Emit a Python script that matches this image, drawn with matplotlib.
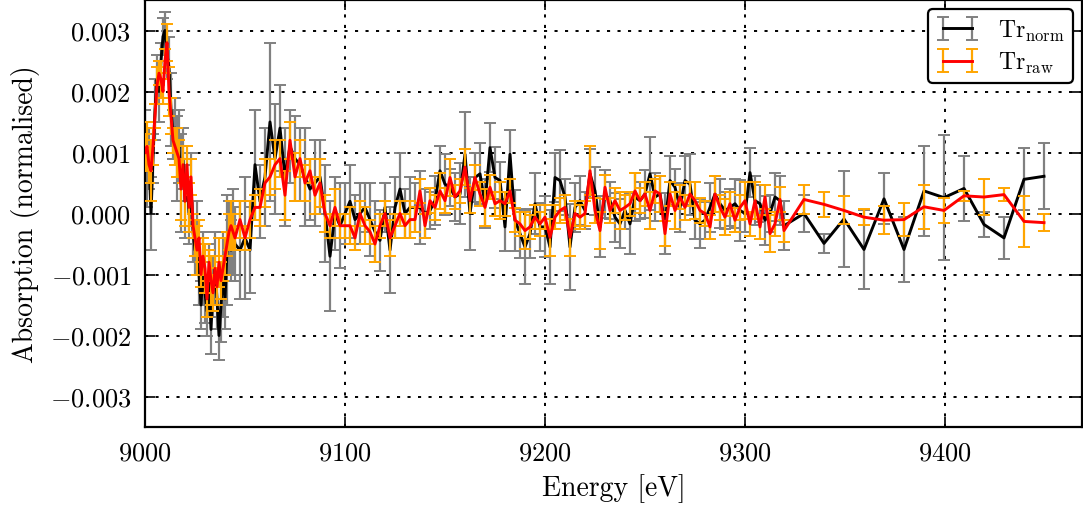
import matplotlib
matplotlib.use("Agg")
import matplotlib.pyplot as plt

plt.rcParams.update({
    "font.family": "cmr10",
    "mathtext.fontset": "cm",
    "axes.formatter.use_mathtext": True,
    "font.size": 19,
})

# ---------------- data ----------------
energy = [
    9000, 9001, 9002, 9003, 9004, 9005, 9006, 9007, 9008, 9009,
    9010, 9011, 9012, 9013, 9014, 9015, 9016, 9017, 9018, 9019,
    9020, 9021, 9022, 9023, 9024, 9025, 9026, 9027, 9028, 9029,
    9030, 9031, 9032, 9033, 9034, 9035, 9036, 9037, 9038, 9039,
    9040, 9041, 9042, 9043, 9044,
    9045, 9047.5, 9050, 9052.5, 9055, 9057.5, 9060, 9062.5, 9065, 9067.5,
    9070, 9072.5, 9075, 9077.5, 9080, 9082.5, 9085, 9087.5, 9090, 9092.5,
    9095, 9097.5, 9100, 9102.5, 9105, 9107.5, 9110, 9112.5, 9115, 9117.5,
    9120, 9122.5, 9125, 9127.5, 9130, 9132.5, 9135, 9137.5, 9140, 9142.5,
    9145, 9147.5, 9150, 9152.5, 9155, 9157.5, 9160, 9162.5, 9165, 9167.5,
    9170, 9172.5, 9175, 9177.5, 9180, 9182.5, 9185, 9187.5, 9190, 9192.5,
    9195, 9197.5, 9200, 9202.5, 9205, 9207.5, 9210, 9212.5, 9215, 9217.5,
    9220, 9222.5, 9225, 9227.5, 9230, 9232.5, 9235, 9237.5, 9240, 9242.5,
    9245, 9247.5, 9250, 9252.5, 9255, 9257.5, 9260, 9262.5, 9265, 9267.5,
    9270, 9272.5, 9275, 9277.5, 9280, 9282.5, 9285, 9287.5, 9290, 9292.5,
    9295, 9297.5, 9300, 9302.5, 9305, 9307.5, 9310, 9312.5, 9315, 9317.5,
    9319.5, 9329.5, 9339.5, 9349.5, 9359.5, 9369.5, 9379.5, 9389.5, 9399.5, 9409.5,
    9419.5, 9429.5, 9439.5, 9449.5,
]

tr_norm = [
    .0012, .0007, .0009, .0000, .0009, .0017, .0022, .0020, .0025, .0029,
    .0030, .0026, .0024, .0017, .0013, .0014, .0009, .0011, .0005, .0009,
    .0002, .0006, .0000, .0004, -.0003, -.0006, -.0004, -.0010, -.0015, -.0009,
    -.0013, -.0016, -.0011, -.0019, -.0012, -.0009, -.0014, -.0020, -.0015, -.0010,
    -.0014, -.0006, -.0004, -.0006, -.0003,
    -.0005, -.0006, -.0004, -.0006, .0008, .0002, .0006, .0015, .0009, .0014,
    .0006, .0011, .0009, .0008, .0006, .0004, .0005, .0006, .0000, -.0007,
    .0000, -.0002, .0000, .0002, -.0001, .0000, .0001, -.0001, -.0003, -.00044,
    .0001, -.0006, .0001, .0004, .0000, .0001, .0001, .0001, .0000, .00005,
    .00021, .0007, .00048, .00043, .00027, .00032, .00097, .0000, .00059, .00065,
    .00016, .00108, .00059, .00054, -.00022, .00097, -.00011, -.00033, -.00055, -.00033,
    .00016, -.00022, -.00022, -.00055, .00059, .00054, .00027, -.00055, .0001, .00021,
    .00005, .00065, .00037, -.00022, .00032, .00021, -.00006, -.00017, .00005, -.00017,
    .00027, .00021, .00032, .00065, .00027, .00032, -.00017, .00054, .00043, .0001,
    .00054, .00048, -.00011, -.00017, -.00011, .0001, .00032, .00016, .00005, .0001,
    .00016, .00005, .0000, .00067, .00021, .00016, -.00011, .0000, .00027, .00021,
    -.0002, .0000, -.00049, -.00009, -.00059, .00024, -.00059, .00037, .00026, .00041,
    -.00018, -.0004, .00056, .00061,
]

tr_norm_err = [
    .0005, .0006, .0005, .0006, .0004, .0005, .0004, .0005, .0003, .0003,
    .0003, .0004, .0005, .0006, .0004, .0005, .0007, .0006, .0008, .0005,
    .0006, .0004, .0005, .0006, .0005, .0004, .0006, .0005, .0004, .0006,
    .0005, .0004, .0006, .0004, .0005, .0006, .0005, .0004, .0006, .0007,
    .0005, .0009, .0006, .0005, .0007,
    .0006, .0008, .0010, .0007, .0009, .0006, .0008, .0013, .0009, .0007,
    .0008, .0006, .0007, .0006, .0008, .0005, .0007, .0006, .0008, .0009,
    .0006, .0007, .0005, .0006, .0004, .0005, .0004, .0006, .0005, .0005,
    .0004, .0007, .0005, .0006, .0004, .0005, .0004, .0006, .0004, .0003,
    .0004, .0004, .0005, .0003, .0004, .0005, .0007, .0006, .0004, .0005,
    .0004, .0004, .0005, .0003, .0004, .0004, .0005, .0004, .0006, .0004,
    .0005, .0004, .0005, .0006, .0004, .0005, .0003, .0007, .0004, .0004,
    .0003, .0004, .0004, .0005, .0004, .0003, .0004, .0004, .0003, .0005,
    .0004, .0003, .0004, .0006, .0004, .0003, .0005, .0004, .0003, .0004,
    .0004, .0005, .0003, .0004, .0003, .0004, .0003, .0004, .0003, .0003,
    .0004, .0005, .0003, .0004, .0004, .0003, .0004, .0003, .0004, .0004,
    .0004, .0003, .00015, .00079, .00065, .00042, .00054, .00074, .00102, .00053,
    .0002, .00034, .00051, .00054,
]

tr_raw = [
    .0010, .0011, .0008, .0007, .0011, .0016, .0021, .0023, .0022, .0020,
    .0025, .0028, .0020, .0016, .0012, .0011, .0010, .0009, .0004, .0008,
    .0002, .0008, .0001, .0006, -.0002, -.0004, -.0006, -.0004, -.0010, -.0007,
    -.0009, -.0014, -.0008, -.0011, -.0013, -.0009, -.0012, -.0008, -.0011, -.0009,
    -.0007, -.0005, -.0003, -.0002, -.0003,
    -.0004, -.0001, -.0004, -.0001, .0001, .0001, .0005, .0006, .0008, .0009,
    .0003, .0012, .0006, .0009, .0005, .0007, .0003, .0005, .0000, -.0002,
    .0001, -.0002, -.0002, -.0002, -.0004, .0000, -.0002, -.0003, -.0005, -.0002,
    .0000, -.0004, -.0002, .0000, -.0002, -.0001, -.0001, .00037, -.0002, .00021,
    .0001, .00037, .00021, .00059, .00027, .00037, .00076, .00021, .00059, .00032,
    .0001, .00043, .00016, .00021, .00016, .00037, -.00011, -.00017, -.00028, -.00022,
    -.00006, -.00017, -.00006, -.00039, -.00006, .00005, .0001, -.00039, .0000, -.00006,
    .0000, .0007, .00005, -.00028, .00043, .00005, .00021, .00005, .0001, .00016,
    .00037, .00021, .00032, .00005, .00037, .00032, -.00033, .00032, .00005, .00027,
    .0001, .00032, .00021, .00005, .0000, -.00022, .00032, .0001, -.00006, .00016,
    -.00011, .0001, .00021, -.00017, .00021, -.00022, .00027, -.00033, -.00017, .00023,
    -.00028, .00023, .00015, .00005, -.00006, -.00011, -.0001, .00011, .00005, .00029,
    .00027, .00031, -.00013, -.00015,
]

tr_raw_err = [
    .0003, .0004, .0003, .0005, .0003, .0002, .0003, .0002, .0003, .0002,
    .0002, .0003, .0004, .0003, .0002, .0003, .0004, .0003, .0005, .0003,
    .0004, .0003, .0004, .0003, .0002, .0003, .0004, .0003, .0002, .0003,
    .0004, .0003, .0002, .0004, .0003, .0002, .0003, .0004, .0003, .0002,
    .0003, .0002, .0003, .0004, .0003,
    .0002, .0003, .0002, .0003, .0002, .0003, .0004, .0003, .0004, .0003,
    .0004, .0003, .0004, .0003, .0003, .0002, .0003, .0004, .0003, .0002,
    .0003, .0002, .0002, .0003, .0002, .0002, .0003, .0002, .0003, .0002,
    .0002, .0003, .0002, .0002, .0002, .0003, .0002, .0002, .0002, .0002,
    .0002, .0003, .0002, .0003, .0002, .0002, .0003, .0002, .0002, .0002,
    .0003, .0002, .0002, .0003, .0002, .0002, .0002, .0002, .0003, .0002,
    .0002, .0002, .0002, .0003, .0002, .0002, .0002, .0003, .0002, .0002,
    .0002, .0004, .0002, .0003, .0002, .0002, .0002, .0003, .0002, .0002,
    .0003, .0002, .0002, .0003, .0002, .0003, .0002, .0002, .0003, .0002,
    .0002, .0002, .0003, .0002, .0002, .0002, .0003, .0002, .0003, .0002,
    .0002, .0002, .0003, .0002, .0003, .0002, .0002, .0003, .0002, .0002,
    .00018, .00023, .0002, .00023, .00013, .00023, .00027, .00036, .0002, .00008,
    .00029, .0001, .00042, .00014,
]

x_ticks = [9000, 9100, 9200, 9300, 9400]
y_ticks = [-0.003, -0.002, -0.001, 0.0, 0.001, 0.002, 0.003]
label_norm = r"Tr$_{\rm norm}$"
label_raw = r"Tr$_{\rm raw}$"

# ---------------- figure ----------------
W, H = 1083, 506
fig = plt.figure(figsize=(W / 100, H / 100), dpi=100)
ax = fig.add_axes([145 / W, 78 / H, (1082 - 145) / W, (H - 78 - 1) / H])

ax.errorbar(energy, tr_norm, yerr=tr_norm_err, color="black", ecolor="gray",
            lw=2.1, elinewidth=1.6, capsize=4, capthick=1.4,
            label=label_norm, zorder=2)
ax.errorbar(energy, tr_raw, yerr=tr_raw_err, color="red", ecolor="orange",
            lw=2.1, elinewidth=1.6, capsize=4, capthick=1.4,
            label=label_raw, zorder=3)

ax.set_xlim(9000, 9468.5)
ax.set_ylim(-0.0035, 0.0035)
ax.set_xticks(x_ticks)
ax.set_yticks(y_ticks)
ax.ticklabel_format(axis="x", useOffset=False)

ax.grid(True, color="black", linestyle=(0, (1.6, 3.8)), linewidth=1.4, zorder=0)
ax.set_axisbelow(True)
ax.tick_params(direction="in", top=True, right=True, length=7, width=1.2,
               pad=10, labelsize=19)
for s in ax.spines.values():
    s.set_linewidth(1.6)

ax.set_xlabel("Energy [eV]", fontsize=20, labelpad=6)
ax.set_ylabel("Absorption (normalised)", fontsize=20, labelpad=7)

leg = ax.legend(loc="upper right", fontsize=17, numpoints=2, fancybox=True,
                framealpha=1, borderaxespad=0.4, handlelength=1.8,
                borderpad=0.35, labelspacing=0.3)
leg.get_frame().set_edgecolor("black")
leg.get_frame().set_linewidth(1.6)

fig.savefig("out.png", dpi=100)
